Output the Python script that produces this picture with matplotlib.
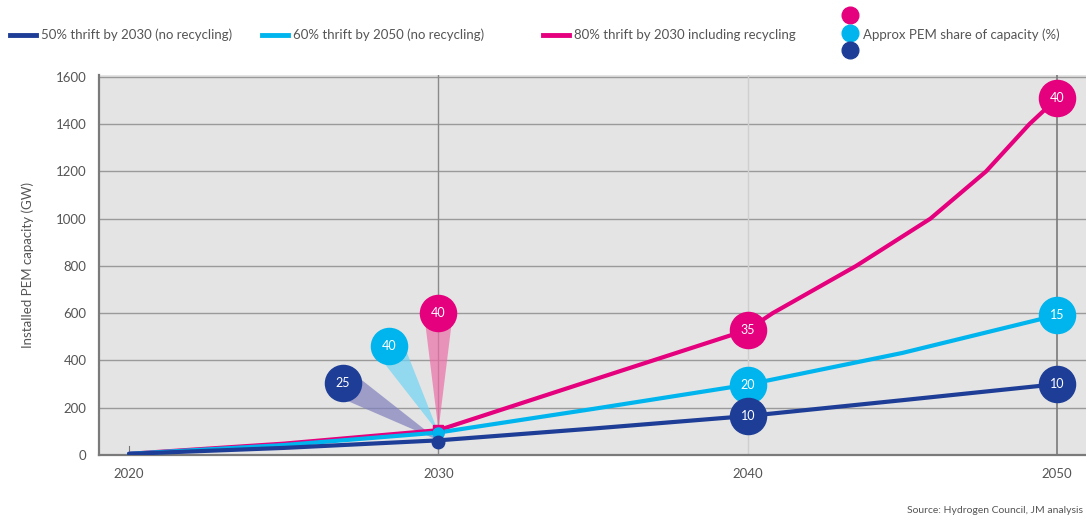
import numpy as np
import matplotlib.pyplot as plt
from matplotlib.lines import Line2D
from matplotlib.patches import Polygon

plt.rcParams["font.family"] = ["Lato", "DejaVu Sans"]

# series (GW installed PEM capacity)
years_low = [2020, 2025, 2030, 2035, 2040, 2045, 2050]
thrift50 = [5, 30, 62, 112, 165, 232, 300]
years_mid = [2020, 2025, 2030, 2035, 2040, 2045, 2050]
thrift60 = [5, 42, 95, 195, 298, 432, 592]
years_high = [2020, 2025, 2030, 2035, 2040, 2040.8, 2043.5, 2045.9, 2047.7, 2049.1, 2050]
thrift80 = [5, 48, 105, 318, 530, 600, 800, 1000, 1200, 1400, 1510]

# approx PEM share of capacity (%) bubbles
share_years = [2040, 2050]
share50 = [10, 10]
share60 = [20, 15]
share80 = [35, 40]

# 2030 call-out bubbles: (x, y) position and label
callout_x = [2026.9, 2028.4, 2030.0]
callout_y = [304, 461, 600]
callout_lbl = [25, 40, 40]

c_dark = "#1e3d96"
c_cyan = "#00b5ee"
c_pink = "#e5007d"
grey_txt = "#555555"

fig = plt.figure(figsize=(10.86, 5.2), dpi=100)
ax = fig.add_axes([0.0912, 0.125, 0.9088, 0.7308])
ax.set_facecolor("#e4e4e4")
ax.set_xlim(2019.03, 2050.93)
ax.set_ylim(0, 1608)

ax.set_yticks(range(0, 1601, 200))
ax.set_xticks([2020, 2030, 2040, 2050])
for v in range(200, 1601, 200):
    ax.axhline(v, color="#9a9a9a", lw=1.0, zorder=1)
ax.axvline(2030, color="#8a8a8a", lw=1.0, zorder=1)
ax.axvline(2040, color="#cfcfcf", lw=1.0, zorder=1)
ax.axvline(2050, color="#7a7a7a", lw=1.2, zorder=1)

for s in ["top", "right"]:
    ax.spines[s].set_visible(False)
for s in ["left", "bottom"]:
    ax.spines[s].set_color("#7a7a7a")
    ax.spines[s].set_linewidth(1.6)
ax.tick_params(length=0, colors=grey_txt, labelsize=9.5)
ax.tick_params(axis="y", pad=9)
ax.tick_params(axis="x", pad=9)
ax.set_ylabel("Installed PEM capacity (GW)", color=grey_txt, fontsize=9.5, labelpad=16)

ax.plot(years_high, thrift80, color=c_pink, lw=3, zorder=3, solid_capstyle="round",
        solid_joinstyle="round")
ax.plot(years_mid, thrift60, color=c_cyan, lw=3, zorder=3.1, solid_capstyle="round",
        solid_joinstyle="round")
ax.plot(years_low, thrift50, color=c_dark, lw=3, zorder=3.2, solid_capstyle="round",
        solid_joinstyle="round")

# fans from the 2030 point to the call-out bubbles
apex_y = [thrift50[2], thrift60[2], thrift80[2]]
fan_cols = ["#7f80bd", "#6fd3f5", "#ec6fa7"]
to_disp = ax.transData
to_data = ax.transData.inverted()
r_px = 17
for cx, cy, ay, fc in zip(callout_x, callout_y, apex_y, fan_cols):
    a = to_disp.transform((2030, ay))
    c = to_disp.transform((cx, cy))
    d = c - a
    n = np.array([-d[1], d[0]]) / np.hypot(*d)
    pts = np.array([a, c + n * r_px * 0.85, c - n * r_px * 0.85])
    ax.add_patch(Polygon(to_data.transform(pts), closed=True, facecolor=fc,
                         edgecolor="none", alpha=0.7, zorder=2.5))

# small markers at 2030
ax.plot([2030], [thrift80[2]], marker="s", ms=7, color=c_pink, zorder=4)
ax.plot([2030], [thrift60[2]], marker="o", ms=8, color=c_cyan, zorder=4.1)
ax.plot([2030], [thrift50[2] - 8], marker="o", ms=9, color=c_dark, zorder=4.2)
ax.plot([2020, 2020], [0, 40], color="#777777", lw=0.8, zorder=2)

bubble_cols = [c_dark, c_cyan, c_pink]
for cx, cy, lbl, col in zip(callout_x, callout_y, callout_lbl, bubble_cols):
    ax.plot(cx, cy, marker="o", ms=26, color=col, zorder=5)
    ax.text(cx, cy, str(lbl), color="white", fontsize=9, ha="center", va="center", zorder=6)


def bubbles(xs, ys, labels, col, z):
    for x, y, lbl in zip(xs, ys, labels):
        ax.plot(x, y, marker="o", ms=26, color=col, zorder=z, clip_on=False)
        ax.text(x, y, str(lbl), color="white", fontsize=9, ha="center", va="center",
                zorder=z + 0.5, clip_on=False)


bubbles(share_years, [thrift80[4], thrift80[-1]], share80, c_pink, 5)
bubbles(share_years, [thrift60[4], thrift60[-1]], share60, c_cyan, 5)
bubbles(share_years, [thrift50[4], thrift50[-1]], share50, c_dark, 5)

# legend row
leg_y = 0.933
legend_items = [(0.009, c_dark, "50% thrift by 2030 (no recycling)"),
                (0.241, c_cyan, "60% thrift by 2050 (no recycling)"),
                (0.500, c_pink, "80% thrift by 2030 including recycling")]
for x0, col, txt in legend_items:
    fig.add_artist(Line2D([x0, x0 + 0.024], [leg_y, leg_y], color=col, lw=3.5,
                          transform=fig.transFigure))
    fig.text(x0 + 0.029, leg_y, txt, color=grey_txt, fontsize=9.5, va="center")
for yy, col in zip([0.971, 0.936, 0.903], [c_pink, c_cyan, c_dark]):
    fig.add_artist(Line2D([0.7825], [yy], marker="o", ms=12, color=col,
                          transform=fig.transFigure))
fig.text(0.795, leg_y, "Approx PEM share of capacity (%)", color=grey_txt, fontsize=9.5,
         va="center")

fig.text(0.997, 0.018, "Source: Hydrogen Council, JM analysis", color=grey_txt,
         fontsize=7.5, ha="right", va="center")

fig.savefig("out.png", dpi=100)
